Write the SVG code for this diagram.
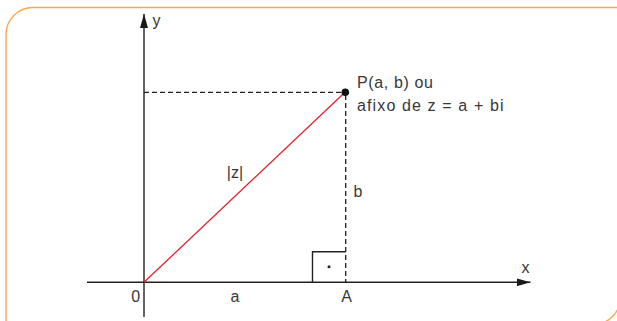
<svg xmlns="http://www.w3.org/2000/svg" width="617" height="321" viewBox="0 0 617 321">
<style>
.frame{fill:none;stroke:#f7a850;stroke-width:1.4}
.axis{stroke:#222;stroke-width:1.4;fill:none}
.dash{stroke:#222;stroke-width:1.3;stroke-dasharray:5 3;fill:none}
.mod{stroke:#e3202b;stroke-width:1.3;fill:none}
.lbl{font-family:"Liberation Sans","Helvetica",Arial,sans-serif;font-size:16px;fill:#383838}
</style>
<defs>
<marker id="arr" viewBox="0 0 14 8" refX="14" refY="4" markerWidth="14" markerHeight="8" markerUnits="userSpaceOnUse" orient="auto">
<path d="M0,0 L14,4 L0,8 Z" fill="#1a1a1a"/>
</marker>
</defs>
<path class="frame" d="M6,335 V34.5 A27,27 0 0 1 33,7.5 H620.4 V297.4 A27,27 0 0 1 593.4,324.4 H6"/>
<g id="connectors">
<line class="axis" x1="87" y1="282.3" x2="530.5" y2="282.3" marker-end="url(#arr)"/>
<line class="axis" x1="144" y1="317" x2="144" y2="14" marker-end="url(#arr)"/>
<line class="dash" x1="144" y1="92.3" x2="345" y2="92.3"/>
<line class="dash" x1="345.7" y1="95" x2="345.7" y2="282.3"/>
<line class="mod" x1="144" y1="282.3" x2="345" y2="92.3"/>
<polyline class="axis" points="312.5,282.3 312.5,251.7 345.7,251.7"/>
<circle cx="329" cy="266.7" r="1.5" fill="#222"/>
</g>
<g id="P">
<circle cx="345.3" cy="92.3" r="3.8" fill="#111"/>
<text class="lbl" x="357" y="88.3" textLength="76" lengthAdjust="spacing">P(a, b) ou</text>
<text class="lbl" x="357" y="110.7" textLength="146.5" lengthAdjust="spacing">afixo de z = a + bi</text>
</g>
<g id="labels">
<text class="lbl" x="152.5" y="26">y</text>
<text class="lbl" x="525.5" y="273.3" text-anchor="middle">x</text>
<text class="lbl" x="135.8" y="302.3" text-anchor="middle">0</text>
<text class="lbl" x="235" y="302.3" text-anchor="middle">a</text>
<text class="lbl" x="346.7" y="302.3" text-anchor="middle">A</text>
<text class="lbl" x="353.5" y="196.5">b</text>
<text class="lbl" x="235" y="177.5" text-anchor="middle">|z|</text>
</g>
</svg>
